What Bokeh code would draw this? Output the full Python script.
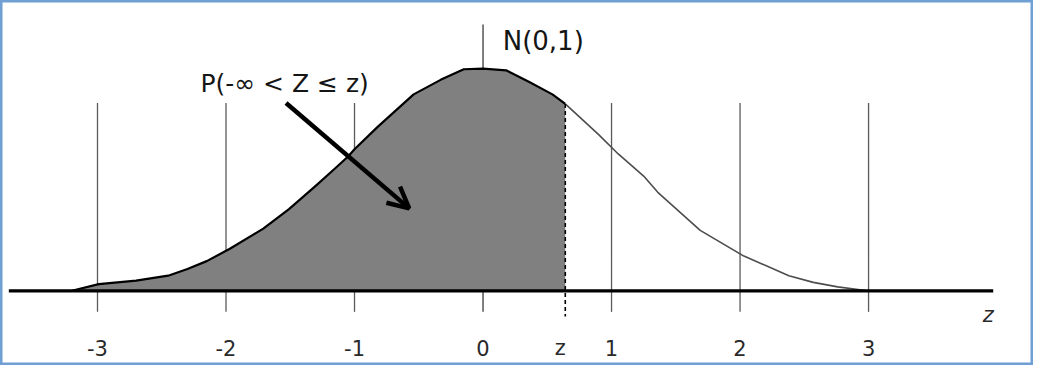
from bokeh.plotting import figure
from bokeh.models import Range1d, Arrow, OpenHead, ColumnDataSource
from bokeh.core.properties import value
from bokeh.embed import file_html
from bokeh.resources import INLINE

# ---- data ----
curve_z = [-3.20, -2.99, -2.70, -2.45, -2.30, -2.15, -1.97, -1.71, -1.51, -1.30, -1.15, -1.05,
           -1.00, -0.82, -0.54, -0.33, -0.15, 0.00, 0.18, 0.36, 0.54, 0.64,
           0.90, 1.05, 1.25, 1.36, 1.69, 2.03, 2.38, 2.57, 2.76, 2.99]
curve_density = [0.000, 0.012, 0.018, 0.027, 0.039, 0.053, 0.075, 0.111, 0.146, 0.188, 0.219, 0.240,
                 0.253, 0.293, 0.351, 0.377, 0.396, 0.397, 0.394, 0.373, 0.351, 0.334,
                 0.279, 0.245, 0.205, 0.176, 0.108, 0.062, 0.027, 0.015, 0.007, 0.000]
z_value = 0.64
tick_values = [-3, -2, -1, 0, 1, 2, 3]
tick_labels = ["-3", "-2", "-1", "0", "z", "1", "2", "3"]
label_values = [-3, -2, -1, 0, z_value, 1, 2, 3]
dist_label = "N(0,1)"
area_label = "P(-\u221e < Z \u2264 z)"
axis_name = "z"

FONT = "DejaVu Sans"

p = figure(width=1033, height=365, output_backend="svg", toolbar_location=None,
           x_range=Range1d(-3.7548, 4.2835), y_range=Range1d(-0.13356, 0.51884),
           min_border=0, x_axis_type=None, y_axis_type=None)
p.grid.visible = False
p.outline_line_color = "#6f9fd3"
p.outline_line_width = 4
p.background_fill_color = "white"
p.border_fill_color = "white"

# vertical reference lines
others = [t for t in tick_values if t != 0]
p.segment(x0=others, y0=[0.3356] * len(others), x1=others, y1=[-0.0377] * len(others),
          line_color="#5a5a5a", line_width=1.3)
p.segment(x0=[0], y0=[0.476], x1=[0], y1=[-0.0377], line_color="#3a3a3a", line_width=1.3)

# shaded area up to z
sx = [z for z in curve_z if z <= z_value]
sy = [d for z, d in zip(curve_z, curve_density) if z <= z_value]
p.patch(x=sx + [z_value, sx[0]], y=sy + [0, 0], fill_color="#808080", line_color=None)
p.line(x=sx, y=sy, line_color="black", line_width=2.2, line_join="round")

# right part of the curve
rx = [z for z in curve_z if z >= z_value]
ry = [d for z, d in zip(curve_z, curve_density) if z >= z_value]
p.line(x=rx, y=ry, line_color="#4d4d4d", line_width=1.6, line_join="round")

# dashed line at z
zi = curve_z.index(z_value)
p.segment(x0=[z_value], y0=[curve_density[zi]], x1=[z_value], y1=[-0.0462],
          line_color="black", line_width=1.6, line_dash="4 3")

# baseline
p.segment(x0=[-3.69], y0=[0], x1=[3.97], y1=[0], line_color="black", line_width=3.2)

# tick labels
offs = [-5 if t == "z" else 0 for t in tick_labels]
src = ColumnDataSource(dict(x=label_values, y=[-0.1027] * len(label_values), t=tick_labels, o=offs))
p.text(x="x", y="y", text="t", x_offset="o", source=src, text_align="center",
       text_baseline="alphabetic", text_font=value(FONT), text_font_size="21px",
       text_color="#2a2a2a")

# axis name
p.text(x=[3.931], y=[-0.0428], text=[axis_name], text_align="center", text_baseline="alphabetic",
       text_font=value(FONT), text_font_size="21px", text_font_style="italic", text_color="#2a2a2a")

# labels
p.text(x=[0.153], y=[0.4469], text=[dist_label], text_align="left", text_baseline="alphabetic",
       text_font=value(FONT), text_font_size="26px", text_color="#151515")
p.text(x=[-1.544], y=[0.3699], text=[area_label], text_align="center", text_baseline="alphabetic",
       text_font=value(FONT), text_font_size="25px", text_color="#151515")

# arrow
p.add_layout(Arrow(end=OpenHead(size=21, line_width=4.5, line_color="black"),
                   x_start=-1.533, y_start=0.3356, x_end=-0.5747, y_end=0.1473,
                   line_width=4.5, line_color="black"))

open("out.html", "w").write(file_html(p, INLINE))
